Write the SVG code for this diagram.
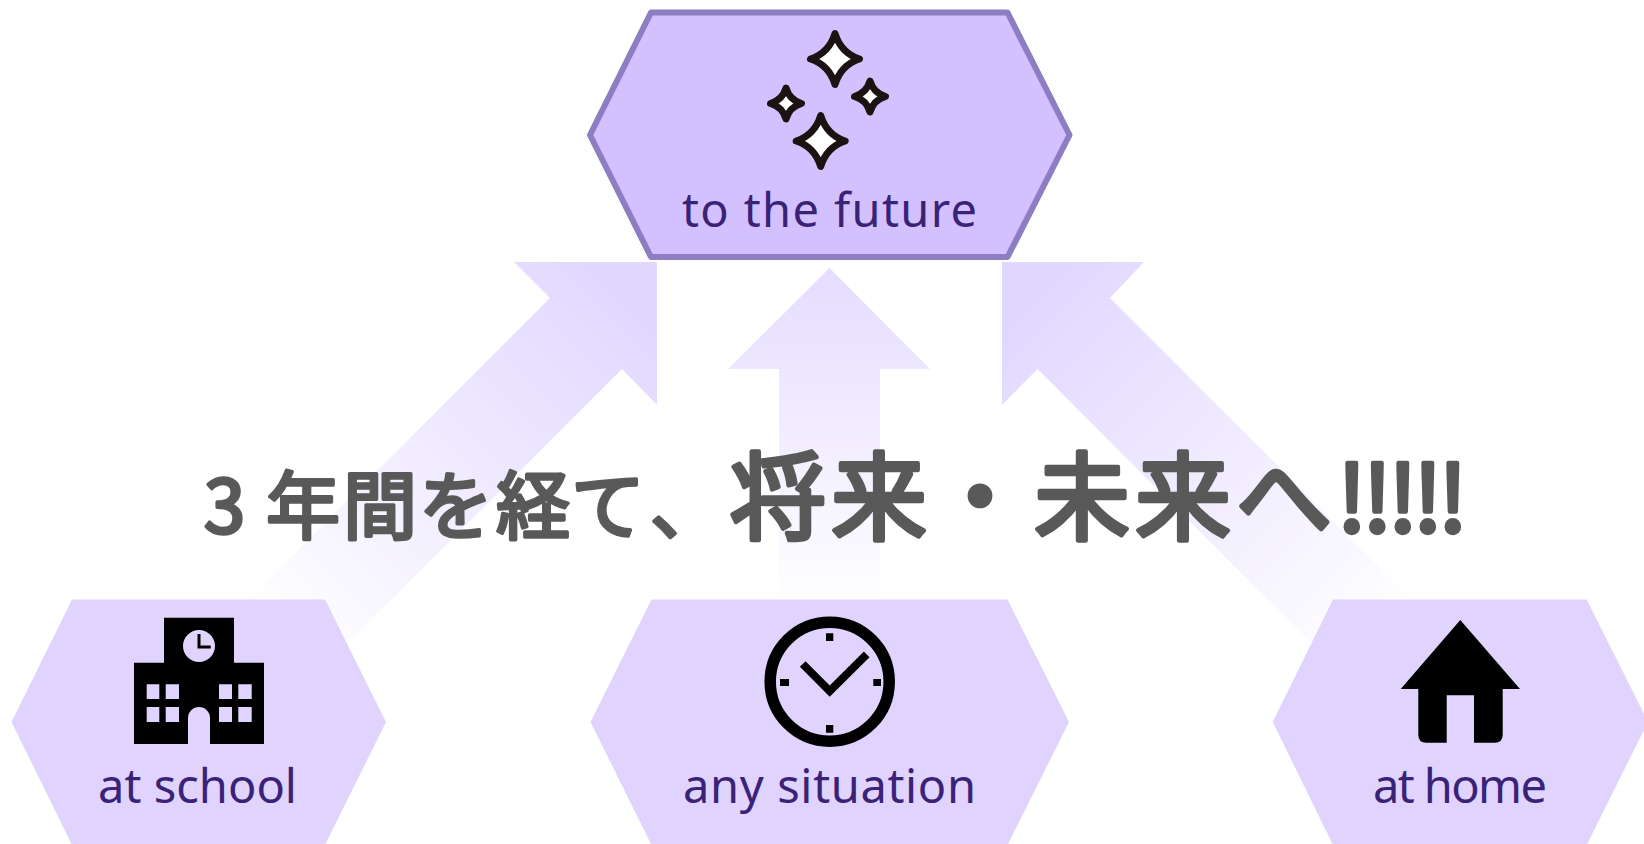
<svg xmlns="http://www.w3.org/2000/svg" width="1644" height="844" viewBox="0 0 1644 844">
<style>
.hex{fill:#e0d4ff}
.top{fill:#d3c1ff;stroke:#8d7dc2;stroke-width:6;stroke-linejoin:round}
.lbl{font-family:"Noto Sans","Open Sans",sans-serif;font-weight:400;font-size:47px;fill:#3a2377}
.head{font-family:"Noto Sans CJK JP","Noto Sans",sans-serif;font-weight:400;fill:#595959;stroke:#595959;stroke-linejoin:round;stroke-linecap:round}
.s{stroke-width:3.500}
.b{stroke-width:4.500}
.star{fill:#fff;stroke:#1a1311;stroke-width:7;stroke-linejoin:round}
</style>
<defs>
<linearGradient id="gL" gradientUnits="userSpaceOnUse" x1="620" y1="300" x2="275" y2="645"><stop offset="0" stop-color="#e2d8ff"/><stop offset="1" stop-color="#fff"/></linearGradient>
<linearGradient id="gM" gradientUnits="userSpaceOnUse" x1="830" y1="268" x2="830" y2="610"><stop offset="0" stop-color="#e5dcff"/><stop offset="1" stop-color="#fff"/></linearGradient>
<linearGradient id="gR" gradientUnits="userSpaceOnUse" x1="1040" y1="300" x2="1385" y2="645"><stop offset="0" stop-color="#e2d8ff"/><stop offset="1" stop-color="#fff"/></linearGradient>
</defs>
<rect width="1644" height="844" fill="#fff"/>
<g id="connectors">
<polygon fill="url(#gL)" points="657,262 514,262 550,298 248,600 300,642 351,640 622,369 657,405"/>
<polygon fill="url(#gM)" points="829.5,268 930,369 880,369 880,600 779,600 779,369 728,369"/>
<polygon fill="url(#gR)" points="1002,262 1144,262 1110,298 1412,600 1360,642 1310,642 1037.5,369 1002,405"/>
</g>
<g id="node-future">
<polygon class="top" points="651,12.5 1007.5,12.5 1069.5,135 1007.5,257 651,257 590,135"/>
<path class="star" d="M835,33.500 Q841,53 859.500,59 Q841,65 835,84.500 Q829,65 810.500,59 Q829,53 835,33.500Z"/>
<path class="star" d="M820.700,115.500 Q826.700,135 845.200,141 Q826.700,147 820.700,166.500 Q814.700,147 796.200,141 Q814.700,135 820.700,115.500Z"/>
<path class="star" d="M786,88 Q789.500,100 801.500,103.500 Q789.500,107 786,119 Q782.500,107 770.500,103.500 Q782.500,100 786,88Z"/>
<path class="star" d="M870,81 Q873.500,93 885.500,96.500 Q873.500,100 870,112 Q866.500,100 854.500,96.500 Q866.500,93 870,81Z"/>
<text class="lbl" x="682" y="226.500" textLength="295" lengthAdjust="spacing">to the future</text>
</g>
<g id="node-school">
<polygon class="hex" points="72,599.500 325,599.500 386,722 325,845 72,845 11.500,722"/>
<path fill-rule="evenodd" d="M164,617.700H234V662.700H264V744H210V718A11,11 0 0 0 188,718V744H134V662.700H164Z M215,646A16,16 0 1 0 183,646A16,16 0 1 0 215,646Z M146.700,684.300H159.300V699H146.700Z M165.700,684.300H179V699H165.700Z M219,684.300H232V699H219Z M238.300,684.300H251.700V699H238.300Z M146.700,707H159.300V722H146.700Z M165.700,707H179V722H165.700Z M219,707H232V722H219Z M238.300,707H251.700V722H238.300Z"/>
<path d="M199,634V647H210.700" fill="none" stroke="#000" stroke-width="3"/>
<text class="lbl" x="98" y="802.500" textLength="199" lengthAdjust="spacing">at school</text>
</g>
<g id="node-situation">
<polygon class="hex" points="651.500,599.500 1007.500,599.500 1069,722 1007.500,845 651.500,845 590.500,722"/>
<circle cx="829.700" cy="681.700" r="59.500" fill="none" stroke="#000" stroke-width="11.500"/>
<path d="M826,633.300h7.300v7.700h-7.300Z M826,725h7.300v7.700h-7.300Z M780,679h9v7h-9Z M873.300,679h7.700v7h-7.700Z"/>
<path d="M802.700,664L829.700,691L866.700,654.300" fill="none" stroke="#000" stroke-width="8"/>
<text class="lbl" x="683" y="802.500" textLength="293" lengthAdjust="spacing">any situation</text>
</g>
<g id="node-home">
<polygon class="hex" points="1333,599.500 1586.700,599.500 1648,722 1586.700,845 1333,845 1272.700,722"/>
<path d="M1460.300,620L1520,689H1502.700V734.700Q1502.700,742.700 1494.700,742.700H1474V695.300H1446.700V742.700H1426.300Q1418.300,742.700 1418.300,734.700V689H1400.700Z"/>
<text class="lbl" x="1373" y="802.500" textLength="174" lengthAdjust="spacing">at home</text>
</g>
<g id="caption">
<text class="head s" font-size="74" x="204 266 343 419 496 571 650" y="533">3年間を経て、</text>
<text class="head b" font-size="96" x="730 831 932 1034 1135 1236" y="532">将来・未来へ</text>
<text class="head b" font-size="92" x="1337 1362.500 1388 1413 1438" y="532">!!!!!</text>
</g>
</svg>
